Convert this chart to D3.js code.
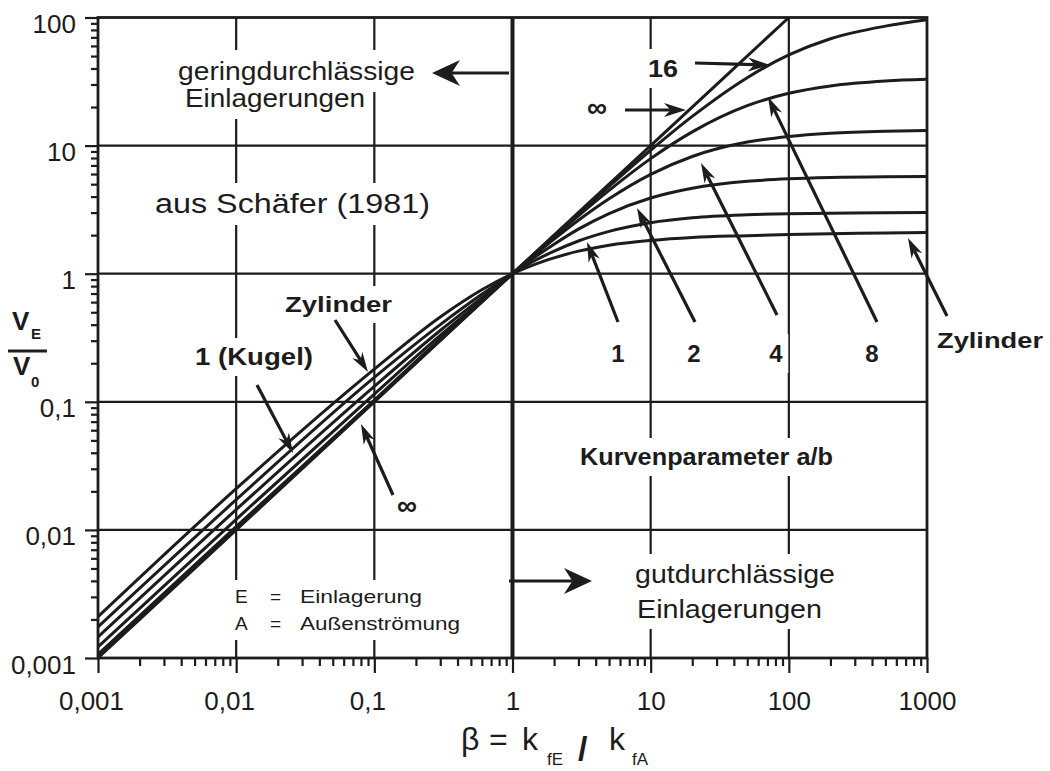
<!DOCTYPE html>
<html>
<head>
  <meta charset="UTF-8">
  <style>
    body { margin: 0; background: #fff; }
    svg { display: block; font-family: "Liberation Sans", Arial, sans-serif; }
  </style>
</head>
<body>
<svg></svg>
<script src="https://d3js.org/d3.v7.min.js"></script>
<script>

let width = 1050, height = 771;
const ink = "#1c1c1c";

// beta = k_fE / k_fA
const beta = [0.001, 0.01, 0.1, 0.3, 0.6, 1, 1.5, 2, 3, 5, 10, 20, 50, 100, 200, 500, 1000];
const vZylinder = [0.0021, 0.021, 0.18, 0.46, 0.75, 1, 1.2, 1.33, 1.5, 1.67, 1.82, 1.92, 1.98, 2.02, 2.05, 2.08, 2.1];
const vKugel    = [0.00175, 0.0172, 0.155, 0.40, 0.69, 1, 1.29, 1.5, 1.8, 2.14, 2.5, 2.73, 2.88, 2.94, 2.97, 2.99, 3.0];
const vAb2      = [0.00146, 0.0144, 0.132, 0.36, 0.65, 1, 1.38, 1.70, 2.23, 2.95, 3.9, 4.65, 5.26, 5.5, 5.63, 5.71, 5.73];
const vAb4      = [0.00122, 0.0121, 0.115, 0.33, 0.62, 1, 1.445, 1.86, 2.61, 3.84, 5.96, 8.22, 10.65, 11.8, 12.5, 12.95, 13.1];
const vAb8      = [0.00107, 0.0106, 0.103, 0.31, 0.607, 1, 1.48, 1.94, 2.83, 4.47, 7.91, 12.8, 20.5, 25.6, 29.2, 31.9, 32.9];
const vAb16     = [0.00103, 0.0102, 0.101, 0.303, 0.602, 1, 1.49, 1.98, 2.94, 4.81, 9.2, 16.9, 33.9, 51, 68.3, 85.6, 96];
const betaInf   = [0.001, 0.01, 0.1, 1, 10, 100];
const vInf      = [0.001, 0.01, 0.1, 1, 10, 100];

const xTickLabels = ["0,001", "0,01", "0,1", "1", "10", "100", "1000"];
const yTickLabels = ["0,001", "0,01", "0,1", "1", "10", "100"];

let svg = d3.select("svg")
    .attr("width", width)
    .attr("height", height);

let x = d3.scaleLog().domain([0.001, 1000]).range([98, 927]);
let y = d3.scaleLog().domain([0.001, 100]).range([658, 17.5]);

const isMajor = d => Math.abs(Math.log10(d) - Math.round(Math.log10(d))) < 1e-6;

let gGrid = svg.append("g");
let gHalo = svg.append("g");
let gCurves = svg.append("g");
let gArrows = svg.append("g");
let gLabels = svg.append("g");

// grid
let xDec = x.ticks().filter(isMajor);
let yDec = y.ticks().filter(isMajor);

gGrid.selectAll("line.v")
    .data(xDec.slice(1, -1))
    .enter().append("line")
    .attr("x1", d => x(d)).attr("x2", d => x(d))
    .attr("y1", y(100)).attr("y2", y(0.001))
    .attr("stroke", ink)
    .attr("stroke-width", d => d === 1 ? 4 : 2.2);

gGrid.selectAll("line.h")
    .data(yDec.slice(1, -1))
    .enter().append("line")
    .attr("y1", d => y(d)).attr("y2", d => y(d))
    .attr("x1", x(0.001)).attr("x2", x(1000))
    .attr("stroke", ink)
    .attr("stroke-width", 2.2);

// axes
let xAxis = d3.axisBottom(x)
    .tickValues(x.ticks())
    .tickSizeOuter(0)
    .tickSize(7)
    .tickFormat(d => isMajor(d) ? xTickLabels[Math.round(Math.log10(d)) + 3] : "");

let gx = svg.append("g")
    .attr("transform", "translate(0," + y(0.001) + ")")
    .call(xAxis);
gx.select(".domain").remove();
gx.selectAll(".tick line")
    .attr("stroke", ink)
    .attr("stroke-width", 2.2)
    .attr("y2", d => isMajor(d) ? 15 : 8);
gx.selectAll(".tick text")
    .attr("y", 52).attr("dy", 0)
    .attr("dx", function() { return this.textContent.indexOf(",") >= 0 ? -7 : 0; })
    .attr("fill", ink)
    .style("font-size", "26px")
    .style("font-family", "Liberation Sans, Arial, sans-serif");

let yAxis = d3.axisLeft(y)
    .tickValues(y.ticks())
    .tickSizeOuter(0)
    .tickSize(7)
    .tickFormat(d => isMajor(d) ? yTickLabels[Math.round(Math.log10(d)) + 3] : "");

let gy = svg.append("g")
    .attr("transform", "translate(" + x(0.001) + ",0)")
    .call(yAxis);
gy.select(".domain").remove();
gy.selectAll(".tick line")
    .attr("stroke", ink)
    .attr("stroke-width", 2.2)
    .attr("x2", d => isMajor(d) ? -13 : -7);
gy.selectAll(".tick text")
    .attr("x", -22).attr("dy", 15)
    .attr("fill", ink)
    .style("font-size", "26px")
    .style("font-family", "Liberation Sans, Arial, sans-serif");

// frame
svg.append("rect")
    .attr("x", x(0.001)).attr("y", y(100))
    .attr("width", x(1000) - x(0.001))
    .attr("height", y(0.001) - y(100))
    .attr("fill", "none")
    .attr("stroke", ink)
    .attr("stroke-width", 2.8);

// curves
let curves = [vZylinder, vKugel, vAb2, vAb4, vAb8, vAb16].map(v => beta.map((b, i) => [b, v[i]]));
curves.push(betaInf.map((b, i) => [b, vInf[i]]));

let line = d3.line()
    .x(d => x(d[0]))
    .y(d => y(d[1]))
    .curve(d3.curveMonotoneX);

gCurves.selectAll("path")
    .data(curves)
    .enter().append("path")
    .attr("d", line)
    .attr("fill", "none")
    .attr("stroke", ink)
    .attr("stroke-width", 3)
    .attr("stroke-linejoin", "round");

// arrows
function arrow(x1, y1, x2, y2, len, half) {
    let a = Math.atan2(y2 - y1, x2 - x1);
    let c = Math.cos(a), s = Math.sin(a);
    let bx = x2 - len * c, by = y2 - len * s;
    let nx = x2 - len * 0.7 * c, ny = y2 - len * 0.7 * s;
    gArrows.append("line")
        .attr("x1", x1).attr("y1", y1)
        .attr("x2", nx).attr("y2", ny)
        .attr("stroke", ink).attr("stroke-width", 3.2);
    gArrows.append("path")
        .attr("d", "M" + x2 + "," + y2 +
            "L" + (bx - half * s) + "," + (by + half * c) +
            "L" + nx + "," + ny +
            "L" + (bx + half * s) + "," + (by - half * c) + "Z")
        .attr("fill", ink);
}

arrow(509, 73, 432, 73, 28, 13);
arrow(509, 581, 592, 581, 28, 13);
arrow(695, 63, 770, 65, 22, 7);
arrow(625, 110, 686, 110, 22, 7);
arrow(618, 322, 587, 242, 20, 6);
arrow(695, 322, 637, 208, 20, 6);
arrow(777, 315, 701, 163, 20, 6);
arrow(877, 322, 768, 97, 20, 6);
arrow(947, 316, 908, 238, 20, 6);
arrow(335, 320, 368, 372, 20, 6);
arrow(257, 385, 293, 453, 20, 6);
arrow(393, 495, 361, 424, 20, 6);

// labels
function label(t, px, py, size, opts) {
    opts = opts || {};
    let el = gLabels.append("text")
        .attr("x", px).attr("y", py)
        .attr("fill", ink)
        .style("font-size", size + "px")
        .style("font-weight", opts.bold ? "bold" : "normal")
        .attr("text-anchor", opts.anchor || "start")
        .text(t);
    if (opts.len) el.attr("textLength", opts.len).attr("lengthAdjust", "spacingAndGlyphs");
    if (opts.central) el.attr("dominant-baseline", "central");
    if (opts.halo) {
        let bb = el.node().getBBox();
        gHalo.append("rect")
            .attr("x", bb.x - 5).attr("y", bb.y - 6)
            .attr("width", bb.width + 10).attr("height", bb.height + 12)
            .attr("fill", "#fff");
    }
    return el;
}

label("geringdurchlässige", 178, 80, 26, {len: 237, halo: true});
label("Einlagerungen", 185, 107, 26, {len: 180, halo: true});
label("aus Schäfer (1981)", 155, 213, 27, {len: 275, halo: true});
label("gutdurchlässige", 635, 583, 25, {len: 200, halo: true});
label("Einlagerungen", 637, 618, 25, {len: 185, halo: true});
label("Kurvenparameter a/b", 580, 465, 23, {bold: true, len: 253, halo: true});
label("E", 235, 603, 19, {halo: true});
label("=", 270, 603, 19, {halo: true});
label("Einlagerung", 300, 603, 19, {len: 122, halo: true});
label("A", 235, 630, 19, {halo: true});
label("=", 270, 630, 19, {halo: true});
label("Außenströmung", 300, 630, 19, {len: 160, halo: true});
label("Zylinder", 285, 312, 22, {bold: true, len: 107, halo: true});
label("1 (Kugel)", 195, 365, 23, {bold: true, len: 118, halo: true});
label("Zylinder", 937, 348, 22, {bold: true, len: 106});
label("16", 648, 77, 24, {bold: true, len: 30, halo: true});
label("∞", 597, 107, 28, {bold: true, anchor: "middle", central: true, halo: true});
label("∞", 407, 505, 28, {bold: true, anchor: "middle", central: true, halo: true});
label("1", 618, 362, 24, {bold: true, anchor: "middle", halo: true});
label("2", 694, 362, 24, {bold: true, anchor: "middle", halo: true});
label("4", 776, 362, 24, {bold: true, anchor: "middle", halo: true});
label("8", 872, 362, 24, {bold: true, anchor: "middle", halo: true});

// x axis title
label("β", 461, 750, 32);
label("=", 489, 750, 32);
label("k", 522, 750, 32);
label("fE", 547, 765, 17);
label("/", 578, 760, 34, {bold: true});
label("k", 609, 750, 32);
label("fA", 632, 765, 17);

// y axis title
label("V", 12, 330, 26, {bold: true});
label("E", 31, 339, 15, {bold: true});
svg.append("line")
    .attr("x1", 8).attr("x2", 47)
    .attr("y1", 351).attr("y2", 351)
    .attr("stroke", ink).attr("stroke-width", 3);
label("V", 13, 375, 26, {bold: true});
label("0", 31, 387, 15, {bold: true});

</script>
</body>
</html>
